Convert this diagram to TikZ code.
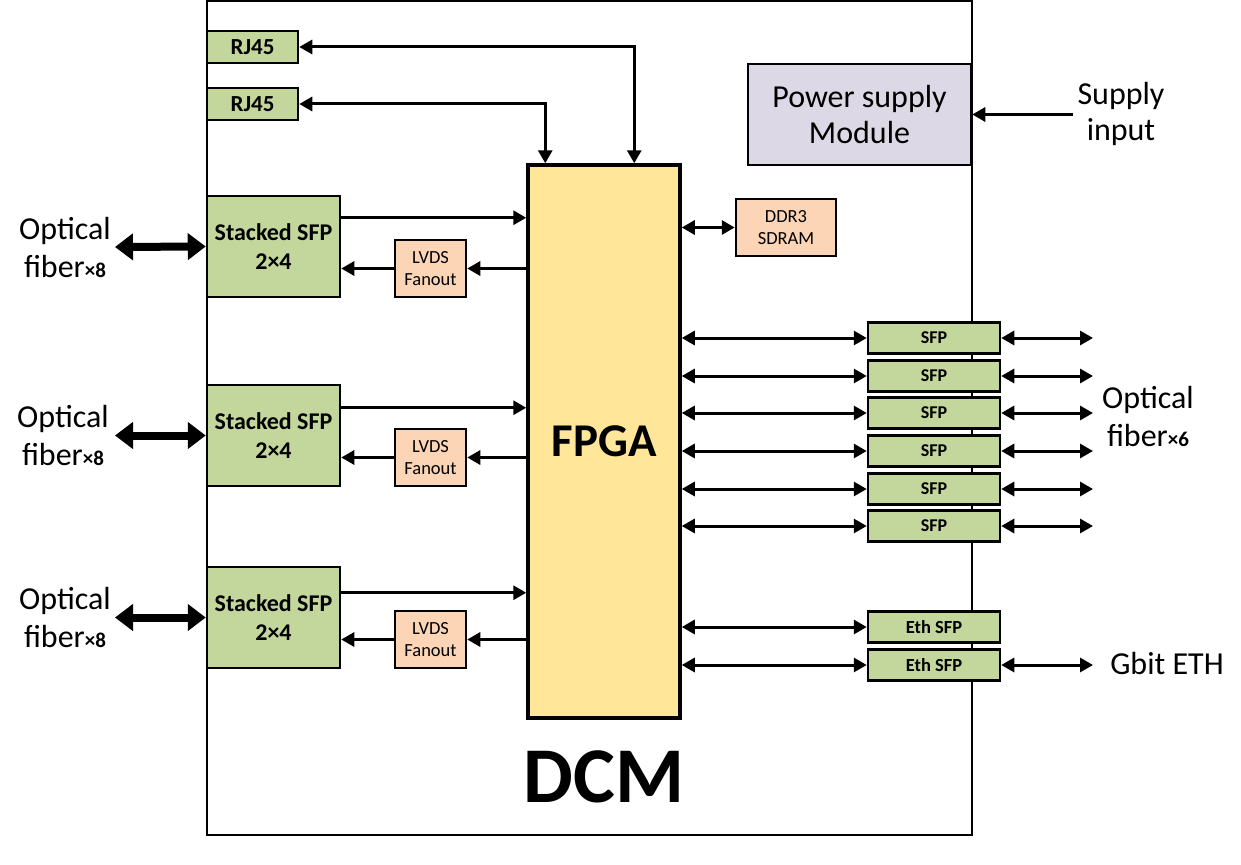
\documentclass[tikz,border=0pt]{standalone}
\usepackage{fontspec}
\setmainfont{Carlito}
\usetikzlibrary{arrows.meta,calc}
\definecolor{sfpgreen}{HTML}{C3D69B}
\definecolor{lvdsorange}{HTML}{FBD5B5}
\definecolor{fpgayellow}{HTML}{FFE699}
\definecolor{pslav}{HTML}{DCD8E6}
\begin{document}
\begin{tikzpicture}[x=1pt,y=-1pt,
  >={Triangle[length=13pt,width=14pt]},
  blk/.style={draw, line width=2.5pt, inner sep=0pt, align=center},
  gbox/.style={blk, fill=sfpgreen},
  obox/.style={blk, fill=lvdsorange, font=\fontsize{18.5}{22.5}\selectfont},
  rjbox/.style={gbox, minimum width=91pt, minimum height=32pt, font=\bfseries\fontsize{23}{26}\selectfont},
  ssbox/.style={gbox, minimum width=133pt, minimum height=101pt, font=\bfseries\fontsize{24}{29}\selectfont},
  lvbox/.style={obox, minimum width=71pt, minimum height=57pt},
  sfpbox/.style={gbox, minimum width=132pt, minimum height=31pt, font=\bfseries\fontsize{18}{20}\selectfont},
  ethbox/.style={sfpbox, font=\bfseries\fontsize{18.5}{20}\selectfont},
  bigtxt/.style={align=center, inner sep=0pt, font=\fontsize{32}{38}\selectfont},
  conn/.style={line width=3pt},
  fat/.style={line width=8pt, {Triangle[length=18pt,width=26pt]}-{Triangle[length=18pt,width=26pt]}},
]
\useasboundingbox (0,0) rectangle (1241,864);
\fill[white] (0,0) rectangle (1241,864);

% outer DCM board
\node[draw, line width=1.5pt, minimum width=765pt, minimum height=834pt, inner sep=0pt] (dcm) at (589.5,418) {};
\node[font=\bfseries\fontsize{79}{80}\selectfont, inner sep=0pt] (dcmlabel) at (604,777) {DCM};

% FPGA
\node[blk, line width=3.5pt, fill=fpgayellow, minimum width=152pt, minimum height=553pt, font=\bfseries\fontsize{47}{50}\selectfont] (fpga) at (604,441.5) {FPGA};

% RJ45
\node[rjbox] (rj1) at (252.5,47) {RJ45};
\node[rjbox] (rj2) at (252.5,104) {RJ45};

% power supply
\node[blk, fill=pslav, minimum width=223pt, minimum height=101pt, font=\fontsize{32}{36}\selectfont] (psm) at (859.5,114.5) {Power supply\\Module};

% DDR3
\node[obox, minimum width=100pt, minimum height=57pt] (ddr) at (786,227.5) {DDR3\\SDRAM};

% stacked SFPs and LVDS
\node[ssbox] (ss1) at (273.5,246.5) {Stacked SFP\\2×4};
\node[ssbox] (ss2) at (273.5,435.5) {Stacked SFP\\2×4};
\node[ssbox] (ss3) at (273.5,617.5) {Stacked SFP\\2×4};
\node[lvbox] (lv1) at (430.5,268.5) {LVDS\\Fanout};
\node[lvbox] (lv2) at (430.5,457.5) {LVDS\\Fanout};
\node[lvbox] (lv3) at (430.5,639.5) {LVDS\\Fanout};

% right SFPs
\foreach \i/\y in {1/338,2/376,3/413,4/451,5/489,6/526}{
  \node[sfpbox] (s\i) at (934,\y) {SFP};
  \coordinate (r\i) at (1093,\y);
}
\node[ethbox] (e1) at (934,627) {Eth SFP};
\node[ethbox] (e2) at (934,665) {Eth SFP};
\coordinate (re2) at (1093,665);

% outside labels
\node[bigtxt] (of1) at (65,247) {Optical\\fiber{\bfseries\fontsize{21}{21}\selectfont ×8}};
\node[bigtxt] (of2) at (63,435) {Optical\\fiber{\bfseries\fontsize{21}{21}\selectfont ×8}};
\node[bigtxt] (of3) at (65,617) {Optical\\fiber{\bfseries\fontsize{21}{21}\selectfont ×8}};
\node[bigtxt] (of6) at (1148,416) {Optical\\fiber{\bfseries\fontsize{21}{21}\selectfont ×6}};
\node[bigtxt, font=\fontsize{32}{36}\selectfont] (supin) at (1121,114) {Supply\\input};
\node[bigtxt] (geth) at (1167,663) {Gbit ETH};

\coordinate (f1) at (115,247);
\coordinate (f2) at (115,435.5);
\coordinate (f3) at (115,617.5);
\coordinate (pin) at (1073,114.5);

% connectors
\draw[conn,<->] (rj1.east) -| ([xshift=108pt]fpga.north west);
\draw[conn,<->] (rj2.east) -| ([xshift=19pt]fpga.north west);
\draw[conn,->] (pin) -- (psm.east);
\draw[conn,<->] (ddr.west -| fpga.east) -- (ddr.west);

\foreach \k/\d in {1/23,2/24,3/27}{
  \draw[conn,->] ($(ss\k.north east)+(0,\d)$) coordinate (a\k) -- (a\k -| fpga.west);
  \draw[conn,->] (lv\k.east -| fpga.west) -- (lv\k.east);
  \draw[conn,->] (lv\k.west) -- (lv\k.west -| ss\k.east);
  \draw[fat] (f\k) -- (ss\k.west);
}

\foreach \i in {1,...,6}{
  \draw[conn,<->] (s\i.west -| fpga.east) -- (s\i.west);
  \draw[conn,<->] (s\i.east) -- (r\i);
}
\draw[conn,<->] (e1.west -| fpga.east) -- (e1.west);
\draw[conn,<->] (e2.west -| fpga.east) -- (e2.west);
\draw[conn,<->] (e2.east) -- (re2);
\end{tikzpicture}
\end{document}
